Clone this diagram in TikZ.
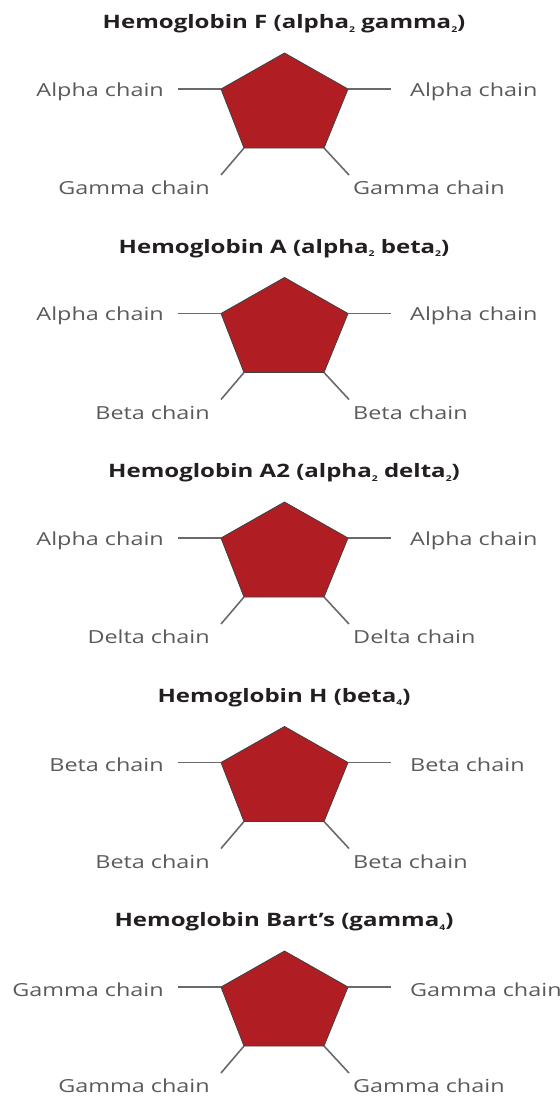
\documentclass[tikz,border=0pt]{standalone}
\usepackage{fontspec}
\setmainfont[FakeStretch=1.3]{Open Sans}
\definecolor{hbred}{HTML}{B01E24}
\definecolor{labelgray}{HTML}{5A5A5A}
\definecolor{linegray}{HTML}{6A6A6A}
\definecolor{titleblack}{HTML}{231F20}
\newcommand{\hbsub}[1]{\raisebox{-0.35ex}{\fontsize{8}{9}\selectfont #1}}
\tikzset{
  pent/.style={fill=hbred, draw=black!75, line width=0.8pt, line join=round},
  leg/.style={draw=linegray, line width=1.6pt},
  lbl/.style={inner sep=0pt, text=labelgray, font=\fontsize{18}{20}\selectfont},
  ttl/.style={inner sep=0pt, text=titleblack, font=\bfseries\fontsize{18.5}{20}\selectfont}
}
\newcommand{\hbpanel}[7]{%
  % #1 prefix, #2 y offset, #3 title, #4 left, #5 right, #6 bottom-left, #7 bottom-right
  \begin{scope}[yshift=-#2pt]
    \node[ttl] (#1t) at (284,24) {#3};
    \coordinate (#1top) at (284.5,53);
    \coordinate (#1ul) at (221,89);
    \coordinate (#1ur) at (348,89);
    \coordinate (#1lr) at (324,148);
    \coordinate (#1ll) at (244,148);
    \coordinate (#1le) at (178,89);
    \coordinate (#1re) at (391,89);
    \coordinate (#1lle) at (221,175);
    \coordinate (#1lre) at (349,175);
    \draw[leg] (#1ul) -- (#1le);
    \draw[leg] (#1ur) -- (#1re);
    \draw[leg] (#1ll) -- (#1lle);
    \draw[leg] (#1lr) -- (#1lre);
    \draw[pent] (#1top) -- (#1ur) -- (#1lr) -- (#1ll) -- (#1ul) -- cycle;
    \node[lbl, anchor=east] (#1l) at (164,91.5) {#4};
    \node[lbl, anchor=west] (#1r) at (410,91.5) {#5};
    \node[lbl, anchor=east] (#1bl) at (210,188) {#6};
    \node[lbl, anchor=west] (#1br) at (353,188) {#7};
  \end{scope}}
\begin{document}
\begin{tikzpicture}[x=1pt,y=-1pt]
\useasboundingbox (0,0) rectangle (560,1096);
\hbpanel{a}{0}{Hemoglobin F (alpha\hbsub{2} gamma\hbsub{2})}{Alpha chain}{Alpha chain}{Gamma chain}{Gamma chain}
\hbpanel{b}{224.5}{Hemoglobin A (alpha\hbsub{2} beta\hbsub{2})}{Alpha chain}{Alpha chain}{Beta chain}{Beta chain}
\hbpanel{c}{449}{Hemoglobin A2 (alpha\hbsub{2} delta\hbsub{2})}{Alpha chain}{Alpha chain}{Delta chain}{Delta chain}
\hbpanel{d}{673.5}{Hemoglobin H (beta\hbsub{4})}{Beta chain}{Beta chain}{Beta chain}{Beta chain}
\hbpanel{e}{898}{Hemoglobin Bart’s (gamma\hbsub{4})}{Gamma chain}{Gamma chain}{Gamma chain}{Gamma chain}
\end{tikzpicture}
\end{document}
